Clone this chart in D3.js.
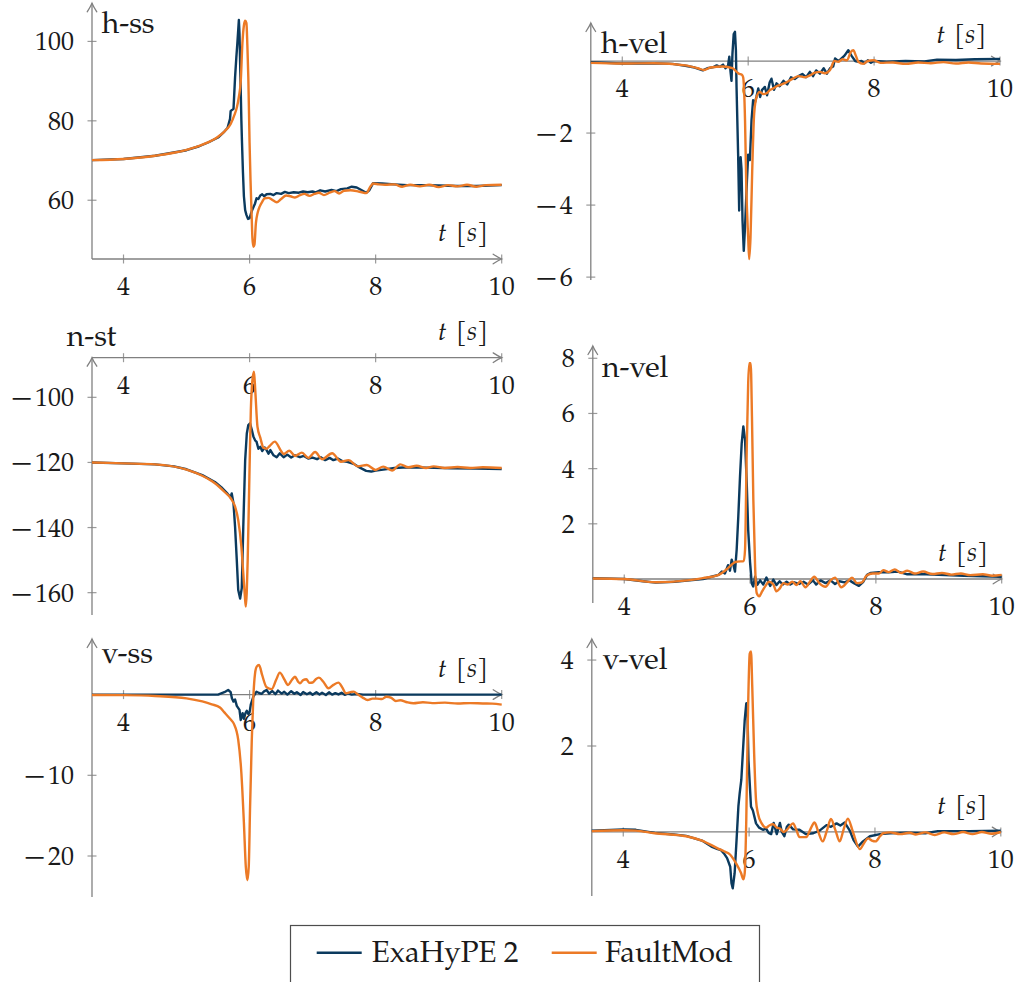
<!DOCTYPE html>
<html>
<head>
<meta charset="utf-8">
<script src="https://cdn.jsdelivr.net/npm/d3@7"></script>
<style>
  body { margin: 0; background: #fff; }
  svg { display: block; }
</style>
</head>
<body>
<svg id="chart" width="1022" height="982"></svg>
<script>
// ---- data: [time (s), value] samples of each receiver trace ----
const seriesNames = ["ExaHyPE 2", "FaultMod"];
const seriesColors = ["#0b3a5e", "#ec7a26"];
const xTicks = [4, 6, 8, 10];

const hssExa = [[3.5,70.1],[4.0,70.4],[4.5,71.2],[5.0,72.6],[5.2,73.6],[5.35,74.6],[5.5,75.8],[5.6,77.3],[5.65,78.2],[5.69,80.5],[5.70,82.5],[5.72,82.7],[5.745,83.0],[5.77,91],[5.79,96],[5.806,99.5],[5.83,105.4],[5.84,102],[5.855,91],[5.87,80],[5.88,74.4],[5.895,67],[5.91,61],[5.93,57.5],[5.95,56.3],[5.975,55.3],[6.0,55.5],[6.04,57.5],[6.087,59.2],[6.11,60.5],[6.14,60.3],[6.17,61.2],[6.2,61.5],[6.23,61],[6.27,61.5],[6.33,61.6],[6.38,61.3],[6.43,61.8],[6.5,61.6],[6.56,62.1],[6.62,61.8],[6.7,62],[6.78,61.9],[6.85,62.2],[6.92,62],[7.0,62.2],[7.05,62],[7.12,62.5],[7.2,62.2],[7.3,62.6],[7.38,62.3],[7.45,62.8],[7.55,63.0],[7.62,63.4],[7.7,63.2],[7.78,62.5],[7.85,61.9],[7.9,62.5],[7.96,64.3],[8.1,64.2],[8.3,64],[8.5,63.8],[8.8,63.8],[9.0,63.7],[9.3,63.6],[9.6,63.6],[10,63.8]];
const hssFault = [[3.5,70.1],[4.0,70.4],[4.5,71.2],[5.0,72.7],[5.25,74.0],[5.5,76.0],[5.6,77.3],[5.7,79.2],[5.76,81.5],[5.8,83.5],[5.83,86],[5.86,90],[5.886,99.5],[5.91,104],[5.93,105.2],[5.95,104.6],[5.965,99],[5.98,91],[6.0,74.4],[6.015,65],[6.03,57.6],[6.045,50.5],[6.06,48.3],[6.077,48.8],[6.1,54.2],[6.13,57],[6.16,58.4],[6.2,59.6],[6.24,60.5],[6.3,60.6],[6.36,60.1],[6.43,59.5],[6.5,60.3],[6.58,61.2],[6.65,61],[6.72,60.7],[6.8,61.3],[6.87,61.6],[6.95,61.1],[7.03,61.6],[7.1,61.9],[7.18,61.3],[7.27,61.9],[7.35,62.3],[7.42,61.7],[7.5,62.4],[7.6,62.5],[7.7,62.3],[7.78,62],[7.85,61.8],[7.92,63.5],[7.96,64.2],[8.05,64],[8.15,63.9],[8.3,64],[8.42,63.4],[8.55,63.9],[8.7,63.5],[8.85,63.9],[9.0,63.3],[9.15,63.8],[9.3,63.5],[9.45,63.9],[9.6,63.4],[9.75,63.8],[10,63.9]];

const hvelExa = [[3.5,-0.03],[4.0,-0.07],[4.5,-0.06],[4.8,-0.08],[5.0,-0.13],[5.15,-0.18],[5.28,-0.26],[5.35,-0.2],[5.45,-0.17],[5.5,-0.12],[5.55,-0.16],[5.6,-0.1],[5.64,-0.2],[5.68,-0.13],[5.7,0.12],[5.72,-0.3],[5.735,-0.55],[5.75,0.2],[5.77,0.75],[5.79,0.81],[5.805,0.3],[5.815,-0.72],[5.84,-2.57],[5.857,-4.15],[5.865,-3.3],[5.88,-2.67],[5.894,-3.0],[5.91,-4.43],[5.93,-5.27],[5.95,-4.6],[5.98,-3.32],[6.0,-2.6],[6.027,-2.75],[6.053,-1.65],[6.078,-1.09],[6.1,-1.2],[6.13,-1.0],[6.16,-0.76],[6.19,-1.0],[6.22,-0.8],[6.265,-0.72],[6.3,-0.95],[6.34,-0.6],[6.37,-0.49],[6.41,-0.8],[6.45,-0.62],[6.5,-0.7],[6.56,-0.55],[6.62,-0.65],[6.68,-0.45],[6.74,-0.5],[6.8,-0.42],[6.86,-0.36],[6.92,-0.45],[6.98,-0.3],[7.03,-0.42],[7.08,-0.26],[7.14,-0.35],[7.2,-0.2],[7.25,-0.35],[7.3,-0.2],[7.35,-0.15],[7.38,0.07],[7.43,0.0],[7.47,0.05],[7.53,0.15],[7.59,0.3],[7.64,0.15],[7.7,0.0],[7.75,-0.02],[7.8,0.0],[7.85,-0.06],[7.9,0.02],[7.95,-0.05],[8.0,0.0],[8.2,-0.02],[8.5,0.0],[8.8,-0.01],[9.0,0.04],[9.3,0.03],[9.6,0.05],[10,0.06]];
const hvelFault = [[3.5,-0.05],[4.0,-0.07],[4.5,-0.06],[5.0,-0.12],[5.2,-0.2],[5.3,-0.25],[5.4,-0.18],[5.6,-0.15],[5.75,-0.2],[5.85,-0.35],[5.9,-0.38],[5.92,-0.45],[5.95,-1.65],[5.97,-3.5],[6.0,-4.9],[6.016,-5.5],[6.037,-4.9],[6.064,-3.04],[6.095,-1.46],[6.133,-1.0],[6.185,-0.86],[6.24,-0.92],[6.29,-0.9],[6.35,-0.8],[6.4,-0.76],[6.45,-0.7],[6.5,-0.67],[6.6,-0.6],[6.71,-0.49],[6.8,-0.42],[6.9,-0.45],[6.98,-0.4],[7.06,-0.32],[7.14,-0.3],[7.22,-0.34],[7.3,-0.25],[7.37,0.0],[7.43,-0.02],[7.5,0.05],[7.57,0.02],[7.63,0.25],[7.67,0.3],[7.71,0.15],[7.75,-0.02],[7.83,-0.08],[7.9,0.0],[7.99,0.02],[8.1,-0.05],[8.3,-0.04],[8.5,-0.08],[8.7,-0.04],[8.9,-0.06],[9.1,-0.03],[9.3,-0.07],[9.5,-0.04],[9.7,-0.07],[10,-0.08]];

const nstExa = [[3.5,-120.0],[4.0,-120.3],[4.5,-120.6],[4.8,-121.2],[5.0,-122.1],[5.25,-123.9],[5.45,-126],[5.55,-127.6],[5.65,-129.6],[5.7,-130.7],[5.717,-129.5],[5.745,-132.6],[5.77,-139.8],[5.797,-150],[5.82,-159.2],[5.85,-161.8],[5.876,-158.6],[5.9,-139.8],[5.93,-119.3],[5.956,-111.1],[5.98,-108.5],[6.007,-108],[6.035,-110],[6.06,-112],[6.09,-113.3],[6.11,-113.6],[6.14,-115.8],[6.17,-115.2],[6.2,-116.5],[6.24,-115.4],[6.27,-116.2],[6.3,-117.3],[6.33,-116.2],[6.38,-117.8],[6.43,-118.4],[6.48,-117.2],[6.54,-118.4],[6.6,-117.6],[6.66,-118.5],[6.72,-117.8],[6.8,-118.4],[6.86,-118],[6.93,-118.8],[7.0,-118.5],[7.07,-119],[7.13,-118.4],[7.2,-119.3],[7.27,-118.6],[7.33,-119.3],[7.4,-118.8],[7.47,-119.6],[7.55,-119.8],[7.65,-120.4],[7.75,-121.6],[7.85,-122.6],[7.93,-122.8],[8.0,-122.5],[8.12,-122.2],[8.3,-121.7],[8.5,-121.5],[8.8,-121.6],[9.2,-121.8],[9.6,-121.9],[10,-122.0]];
const nstFault = [[3.5,-120.0],[4.0,-120.3],[4.5,-120.6],[5.0,-122.2],[5.25,-124.1],[5.45,-126.4],[5.6,-129],[5.7,-131],[5.77,-133.6],[5.82,-137.7],[5.87,-145.9],[5.9,-154.1],[5.925,-161],[5.94,-164.3],[5.955,-160],[5.97,-150],[5.997,-124.4],[6.02,-103.9],[6.045,-94.7],[6.07,-92.1],[6.09,-97.8],[6.125,-109],[6.17,-112.4],[6.22,-115.5],[6.27,-115.8],[6.32,-114.9],[6.4,-113.6],[6.5,-116.5],[6.54,-117.4],[6.63,-116.4],[6.72,-118],[6.83,-117],[6.93,-118.6],[7.04,-116.8],[7.15,-119],[7.31,-117.2],[7.45,-119.8],[7.57,-119.3],[7.72,-121.2],[7.86,-120.8],[8.0,-122.3],[8.12,-121.3],[8.26,-122.5],[8.39,-120.6],[8.52,-121.5],[8.65,-121],[8.8,-121.7],[8.92,-121.2],[9.1,-121.7],[9.3,-121.4],[9.5,-121.7],[9.7,-121.5],[10,-121.7]];

const nvelExa = [[3.5,0.03],[4.0,0.0],[4.3,-0.08],[4.5,-0.13],[4.8,-0.1],[5.0,-0.06],[5.25,0.0],[5.4,0.09],[5.5,0.15],[5.55,0.27],[5.6,0.2],[5.65,0.5],[5.68,0.3],[5.708,0.7],[5.734,0.52],[5.76,0.27],[5.787,1.06],[5.813,2.27],[5.84,3.71],[5.867,4.92],[5.893,5.53],[5.92,5.05],[5.947,3.47],[5.97,1.78],[6.0,0.6],[6.026,-0.15],[6.05,-0.27],[6.08,0.09],[6.115,-0.21],[6.16,-0.05],[6.21,-0.2],[6.26,0.05],[6.32,-0.25],[6.37,-0.02],[6.42,-0.22],[6.47,-0.08],[6.52,-0.2],[6.58,-0.1],[6.64,-0.2],[6.7,-0.12],[6.78,-0.18],[6.85,-0.1],[6.92,-0.2],[7.0,-0.05],[7.05,-0.2],[7.12,-0.05],[7.2,-0.15],[7.28,-0.05],[7.35,-0.18],[7.42,-0.08],[7.5,-0.12],[7.58,-0.05],[7.65,-0.15],[7.73,-0.25],[7.8,-0.1],[7.86,0.15],[7.92,0.22],[8.05,0.25],[8.2,0.24],[8.35,0.27],[8.5,0.17],[8.8,0.17],[9.1,0.14],[9.4,0.12],[9.7,0.1],[10,0.08]];
const nvelFault = [[3.5,0.02],[4.0,0.0],[4.5,-0.12],[5.0,-0.05],[5.25,0.03],[5.5,0.15],[5.6,0.3],[5.7,0.5],[5.75,0.6],[5.8,0.63],[5.9,0.65],[5.92,1.06],[5.947,4.68],[5.97,7.1],[5.988,7.82],[6.01,7.82],[6.03,5.89],[6.052,2.87],[6.08,0.45],[6.105,-0.51],[6.147,-0.63],[6.18,-0.5],[6.24,-0.27],[6.3,-0.1],[6.37,-0.2],[6.42,-0.45],[6.47,-0.35],[6.53,-0.15],[6.6,-0.2],[6.67,-0.1],[6.74,-0.22],[6.8,-0.08],[6.88,-0.3],[6.95,-0.1],[7.02,0.08],[7.1,-0.15],[7.2,-0.28],[7.28,-0.05],[7.35,0.05],[7.45,-0.3],[7.55,-0.1],[7.62,0.05],[7.7,-0.15],[7.78,-0.12],[7.85,0.12],[7.95,0.2],[8.05,0.2],[8.12,0.32],[8.2,0.25],[8.3,0.35],[8.4,0.22],[8.5,0.3],[8.62,0.2],[8.75,0.27],[8.9,0.18],[9.05,0.22],[9.2,0.16],[9.35,0.2],[9.5,0.14],[9.7,0.17],[9.85,0.12],[10,0.15]];

const vssExa = [[3.5,0],[5.5,0],[5.6,0.3],[5.66,0.57],[5.7,0.3],[5.72,-0.46],[5.745,-0.87],[5.77,-0.6],[5.797,-1.4],[5.84,-1.9],[5.86,-3.15],[5.89,-2.3],[5.91,-3.0],[5.935,-2.3],[5.956,-2.0],[5.98,-2.4],[6.0,-2.2],[6.02,-1.2],[6.06,-0.26],[6.11,0.36],[6.15,0.2],[6.19,0.1],[6.23,0.4],[6.27,0.57],[6.31,0.12],[6.36,0.45],[6.41,0.05],[6.45,0.5],[6.51,0.12],[6.55,0.35],[6.6,0.0],[6.66,0.42],[6.71,0.1],[6.75,0.3],[6.81,-0.05],[6.85,0.32],[6.91,0.05],[6.96,0.25],[7.0,-0.02],[7.06,0.3],[7.11,0.02],[7.15,0.22],[7.21,-0.05],[7.26,0.28],[7.31,0.0],[7.36,0.18],[7.41,0.02],[7.46,0.22],[7.51,-0.03],[7.56,0.15],[7.62,0.0],[7.7,0.08],[7.8,0.0],[10,0.0]];
const vssFault = [[3.5,-0.05],[4.0,-0.07],[4.5,-0.17],[5.0,-0.46],[5.25,-0.85],[5.4,-1.2],[5.53,-1.6],[5.6,-2.2],[5.69,-3.0],[5.75,-3.6],[5.82,-5.6],[5.87,-9.75],[5.91,-15.9],[5.94,-21.3],[5.965,-23.0],[5.987,-21.3],[6.008,-13.9],[6.035,-5.6],[6.06,-0.26],[6.087,2.64],[6.113,3.46],[6.15,3.67],[6.2,2.4],[6.27,0.9],[6.35,0.68],[6.42,1.8],[6.48,2.72],[6.55,1.9],[6.61,1.19],[6.67,1.8],[6.72,2.22],[6.77,1.6],[6.8,1.4],[6.85,1.8],[6.9,1.9],[6.95,1.45],[7.0,1.5],[7.05,1.9],[7.1,2.1],[7.17,1.6],[7.25,0.78],[7.33,1.2],[7.41,1.48],[7.47,0.9],[7.53,0.16],[7.6,0.3],[7.65,0.37],[7.72,0.0],[7.8,-0.4],[7.87,-0.67],[7.95,-0.5],[8.02,-0.5],[8.1,-0.55],[8.17,-0.26],[8.25,-0.4],[8.32,-0.8],[8.39,-0.7],[8.5,-0.95],[8.6,-1.07],[8.75,-0.95],[8.9,-1.05],[9.1,-1.0],[9.3,-1.1],[9.5,-1.05],[9.7,-1.1],[9.85,-1.12],[10,-1.25]];

const vvelExa = [[3.5,0.03],[4.0,0.06],[4.2,0.05],[4.5,-0.02],[4.8,-0.06],[5.0,-0.09],[5.25,-0.2],[5.4,-0.34],[5.5,-0.4],[5.55,-0.42],[5.6,-0.5],[5.65,-0.61],[5.7,-0.81],[5.72,-1.19],[5.74,-1.31],[5.77,-0.96],[5.8,-0.2],[5.83,0.6],[5.85,0.9],[5.876,1.21],[5.9,1.83],[5.93,2.6],[5.955,2.99],[5.97,3.0],[5.99,1.67],[6.03,0.59],[6.06,0.5],[6.11,0.2],[6.16,0.1],[6.22,0.05],[6.27,0.08],[6.31,-0.02],[6.35,-0.05],[6.39,0.21],[6.44,-0.05],[6.49,0.21],[6.52,0.0],[6.56,-0.1],[6.6,0.12],[6.63,0.17],[6.7,0.06],[6.8,0.05],[6.9,-0.05],[7.02,-0.03],[7.12,0.03],[7.23,0.16],[7.3,0.12],[7.39,0.2],[7.45,0.15],[7.52,0.22],[7.6,0.03],[7.66,-0.19],[7.73,-0.34],[7.81,-0.22],[7.92,-0.1],[8.08,-0.05],[8.24,-0.03],[8.5,-0.02],[8.8,-0.03],[9.0,0.02],[9.5,0.02],[10,0.03]];
const vvelFault = [[3.5,0.02],[4.0,0.04],[4.2,0.03],[4.5,-0.03],[5.0,-0.1],[5.25,-0.2],[5.5,-0.38],[5.6,-0.45],[5.7,-0.53],[5.8,-0.75],[5.87,-0.95],[5.91,-1.1],[5.93,-0.96],[5.955,0.28],[5.98,2.6],[6.01,4.15],[6.03,4.2],[6.05,3.38],[6.08,1.83],[6.11,0.74],[6.14,0.43],[6.2,0.2],[6.27,0.1],[6.32,0.15],[6.38,0.18],[6.44,0.1],[6.49,0.08],[6.55,0.0],[6.6,0.05],[6.7,0.2],[6.75,0.05],[6.8,-0.12],[6.91,-0.12],[6.97,0.05],[7.04,0.22],[7.1,0.0],[7.17,-0.22],[7.24,0.05],[7.3,0.3],[7.37,0.05],[7.44,-0.22],[7.5,0.05],[7.57,0.31],[7.65,0.0],[7.76,-0.4],[7.83,-0.25],[7.89,-0.15],[7.95,-0.2],[8.01,-0.22],[8.08,-0.1],[8.13,-0.03],[8.24,-0.01],[8.4,-0.05],[8.55,-0.02],[8.65,-0.06],[8.8,-0.01],[8.95,-0.07],[9.1,-0.01],[9.25,-0.05],[9.4,0.0],[9.55,-0.05],[9.7,0.0],[9.85,-0.04],[10,0.0]];

const panelTitles = ["h-ss", "h-vel", "n-st", "n-vel", "v-ss", "v-vel"];
const panelYTicks = [[60, 80, 100], [-2, -4, -6], [-100, -120, -140, -160], [2, 4, 6, 8], [-10, -20], [2, 4]];
const panelSeries = [[hssExa, hssFault], [hvelExa, hvelFault], [nstExa, nstFault], [nvelExa, nvelFault], [vssExa, vssFault], [vvelExa, vvelFault]];

// ---- layout of the six small axes (pixel frames and visible value ranges) ----
const frames = [
  { x0: 92,    x1: 501.7,  top: 3.3,   bottom: 259, yDom: [45.2, 109.6],    xAxis: "bottom", tx: 101.7, ty: 33.3 },
  { x0: 590.8, x1: 1000,   top: 23,    bottom: 280, yDom: [-6.08, 1.056],   xAxis: "zero",   tx: 601,   ty: 52.7 },
  { x0: 92,    x1: 501.7,  top: 357.7, bottom: 615, yDom: [-166.86, -87.83], xAxis: "top",   tx: 66.7,  ty: 345.7 },
  { x0: 592.8, x1: 1001.7, top: 346,   bottom: 603, yDom: [-0.87, 8.445],   xAxis: "zero",   tx: 602,   ty: 376.7 },
  { x0: 92,    x1: 501.7,  top: 639,   bottom: 897, yDom: [-25.08, 6.89],   xAxis: "zero",   tx: 101.7, ty: 662.7 },
  { x0: 591.8, x1: 1000.8, top: 639,   bottom: 896, yDom: [-1.49, 4.49],    xAxis: "zero",   tx: 602.7, ty: 669.3 }
];

// pick the first installed serif face (Palatino-like preferred)
function pickSerif() {
  const cands = ["P052", "URW Palladio L", "TeX Gyre Pagella", "Palatino Linotype", "Palatino",
    "Book Antiqua", "Linux Libertine O", "Liberation Serif", "Tinos", "DejaVu Serif", "Noto Serif",
    "Times New Roman", "Nimbus Roman", "FreeSerif", "Noto Serif CJK SC"];
  const ctx = document.createElement("canvas").getContext("2d");
  const probe = "ExaHyPE 2 mmmWWiill 0123456789";
  const widthWith = f => { ctx.font = `40px ${f}`; return ctx.measureText(probe).width; };
  const baseMono = widthWith("monospace"), baseSans = widthWith("sans-serif");
  for (const c of cands) {
    const a = widthWith(`"${c}", monospace`), b = widthWith(`"${c}", sans-serif`);
    if (a !== baseMono && b !== baseSans) return `"${c}", serif`;
  }
  return "serif";
}
const serif = pickSerif();

const svg = d3.select("#chart");
const textColor = "#1a1a1a";
const axisColor = "#808080";
const tickColor = "#9a9a9a";

function addText(g, x, y, size, anchor, str) {
  return g.append("text").attr("x", x).attr("y", y)
    .attr("font-family", serif).attr("font-size", size)
    .attr("text-anchor", anchor).attr("fill", textColor).text(str);
}

// open arrow head pointing in direction given by angle (deg), tip at (x,y)
function arrowHead(g, x, y, angle) {
  g.append("path")
    .attr("d", "M-8.5,-4.8 Q-3,-1.2 0,0 Q-3,1.2 -8.5,4.8")
    .attr("transform", `translate(${x},${y}) rotate(${angle})`)
    .attr("fill", "none")
    .attr("stroke", axisColor)
    .attr("stroke-width", 1.3)
    .attr("stroke-linecap", "round");
}

frames.forEach((f, i) => {
  const g = svg.append("g");
  const x = d3.scaleLinear().domain([3.5, 10]).range([f.x0, f.x1]);
  const y = d3.scaleLinear().domain(f.yDom).range([f.bottom, f.top]);
  const xAxisY = f.xAxis === "bottom" ? f.bottom : f.xAxis === "top" ? f.top : y(0);

  // tick marks
  xTicks.forEach(t => {
    g.append("line").attr("x1", x(t)).attr("x2", x(t))
      .attr("y1", xAxisY - 4.5).attr("y2", xAxisY + 4.5)
      .attr("stroke", tickColor).attr("stroke-width", 1.2);
  });
  panelYTicks[i].forEach(v => {
    g.append("line").attr("x1", f.x0 - 4.5).attr("x2", f.x0 + 4.5)
      .attr("y1", y(v)).attr("y2", y(v))
      .attr("stroke", tickColor).attr("stroke-width", 1.2);
  });

  // axis lines with arrows
  g.append("line").attr("x1", f.x0).attr("x2", f.x1).attr("y1", xAxisY).attr("y2", xAxisY)
    .attr("stroke", axisColor).attr("stroke-width", 1.3);
  arrowHead(g, f.x1, xAxisY, 0);
  g.append("line").attr("x1", f.x0).attr("x2", f.x0).attr("y1", f.bottom).attr("y2", f.top)
    .attr("stroke", axisColor).attr("stroke-width", 1.3);
  arrowHead(g, f.x0, f.top, -90);

  // tick labels
  xTicks.forEach(t => addText(g, x(t), xAxisY + 36, 26, "middle", t));
  panelYTicks[i].forEach(v => {
    const tx = addText(g, f.x0 - 18, y(v) + 9, 26, "end", "");
    if (v < 0) tx.append("tspan").attr("font-size", 30).text("\u2212");
    tx.append("tspan").attr("dx", v < 0 ? 2 : 0).text(Math.abs(v));
  });

  // axis label t [s]
  const tl = addText(g, f.x1 - 13.5, xAxisY - 18, 26, "end", "");
  tl.append("tspan").attr("font-style", "italic").text("t");
  tl.append("tspan").attr("dx", 9).text("[");
  tl.append("tspan").attr("font-style", "italic").text("s");
  tl.append("tspan").text("]");

  // panel title
  addText(g, f.tx, f.ty, 30, "start", panelTitles[i]);

  // traces
  const line = d3.line().x(d => x(d[0])).y(d => y(d[1]));
  panelSeries[i].forEach((data, k) => {
    g.append("path").datum(data)
      .attr("d", line.curve(k === 0 ? d3.curveLinear : d3.curveMonotoneX))
      .attr("fill", "none")
      .attr("stroke", seriesColors[k])
      .attr("stroke-width", 2.4)
      .attr("stroke-linejoin", "round");
  });
});

// ---- legend ----
const lg = svg.append("g");
lg.append("rect").attr("x", 290.5).attr("y", 925.5).attr("width", 469).attr("height", 80)
  .attr("fill", "#fff").attr("stroke", "#4d4d4d").attr("stroke-width", 1.2);
const legendItems = [
  { lx: 316.7, tx: 371.7 },
  { lx: 551.7, tx: 605 }
];
seriesNames.forEach((name, k) => {
  const it = legendItems[k];
  lg.append("line").attr("x1", it.lx).attr("x2", it.lx + 45).attr("y1", 952.7).attr("y2", 952.7)
    .attr("stroke", seriesColors[k]).attr("stroke-width", 2.4);
  addText(lg, it.tx, 961.7, 29.5, "start", name);
});
</script>
</body>
</html>
